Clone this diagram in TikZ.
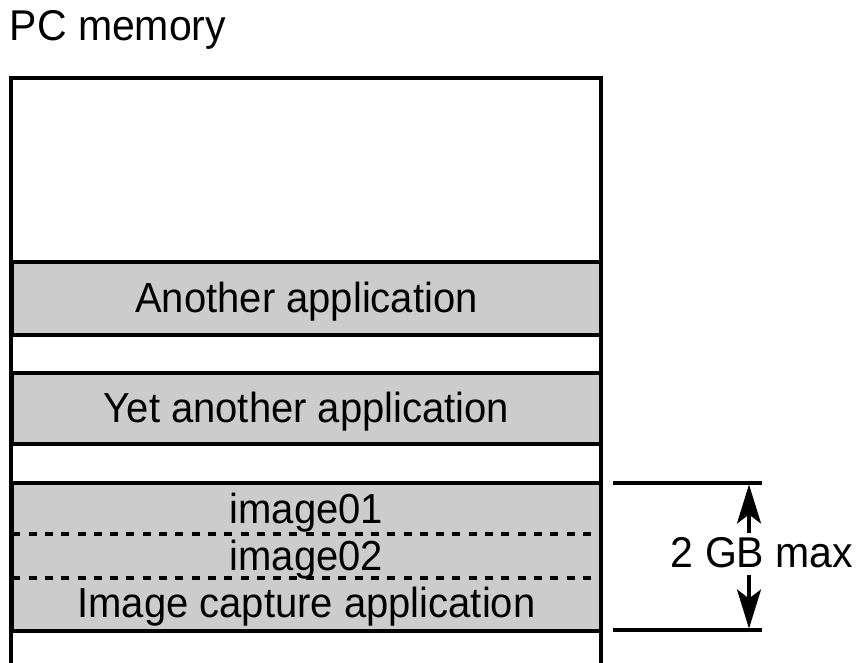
\documentclass[tikz,border=0pt]{standalone}
\usepackage{fontspec}
\usepackage{graphicx}
\setmainfont{Liberation Sans}
\usetikzlibrary{arrows.meta}
\definecolor{bandgray}{HTML}{CCCCCC}
\newcommand{\talltext}[1]{\scalebox{1}[1.05]{#1}}
\begin{document}
\begin{tikzpicture}[x=1pt,y=-1pt,
  frame/.style={line width=4pt},
  band/.style={draw, line width=4pt, fill=bandgray, minimum width=589pt, inner sep=0pt},
  lbl/.style={inner sep=0pt, anchor=base, font=\fontsize{40}{48}\selectfont},
  sep/.style={line width=3.5pt, dash pattern=on 8pt off 8.3pt},
  dim/.style={line width=3.5pt},
  dimarrow/.style={line width=3.5pt, -{Stealth[length=39pt, width=24pt, inset=9pt]}}]
\useasboundingbox (0,0) rectangle (856,663);
% title
\node[inner sep=0pt, anchor=base west, font=\fontsize{41}{49}\selectfont] (title) at (9.5,41) {\talltext{PC memory}};
% bands
\node[band, minimum height=73pt] (another) at (306.5,298.5) {};
\node[band, minimum height=71pt] (yet) at (306.5,408.5) {};
\node[band, minimum height=148pt] (img) at (306.5,557) {};
% frame
\coordinate (fbl) at (11,663);
\coordinate (ftl) at (11,78);
\coordinate (ftr) at (600.5,78);
\coordinate (fbr) at (600.5,663);
\draw[frame] (fbl) -- (ftl) -- (ftr) -- (fbr);
% dashed separators
\coordinate (d1l) at (12.3,534);
\coordinate (d1r) at (599,534);
\coordinate (d2l) at (12.3,578);
\coordinate (d2r) at (599,578);
\draw[sep] (d1l) -- (d1r);
\draw[sep] (d2l) -- (d2r);
% labels
\node[lbl] (tAnother) at (306.5,312) {\talltext{Another application}};
\node[lbl] (tYet) at (306.5,422.5) {\talltext{Yet another application}};
\node[lbl] (tImg1) at (306.5,523) {\talltext{image01}};
\node[lbl] (tImg2) at (306.5,570) {\talltext{image02}};
\node[lbl] (tCap) at (306.5,617.5) {\talltext{Image capture application}};
% dimension
\coordinate (t1) at (613,483);
\coordinate (t2) at (762,483);
\coordinate (b1) at (613,630);
\coordinate (b2) at (762,630);
\draw[dim] (t1) -- (t2);
\draw[dim] (b1) -- (b2);
\node[inner sep=0pt, anchor=base, font=\fontsize{41}{49}\selectfont] (gb) at (762,567) {\talltext{2 GB max}};
\coordinate (au) at (749,533);
\coordinate (at) at (749,484.5);
\coordinate (ad) at (749,575);
\coordinate (ab) at (749,628.5);
\draw[dimarrow] (au) -- (at);
\draw[dimarrow] (ad) -- (ab);
\end{tikzpicture}
\end{document}
